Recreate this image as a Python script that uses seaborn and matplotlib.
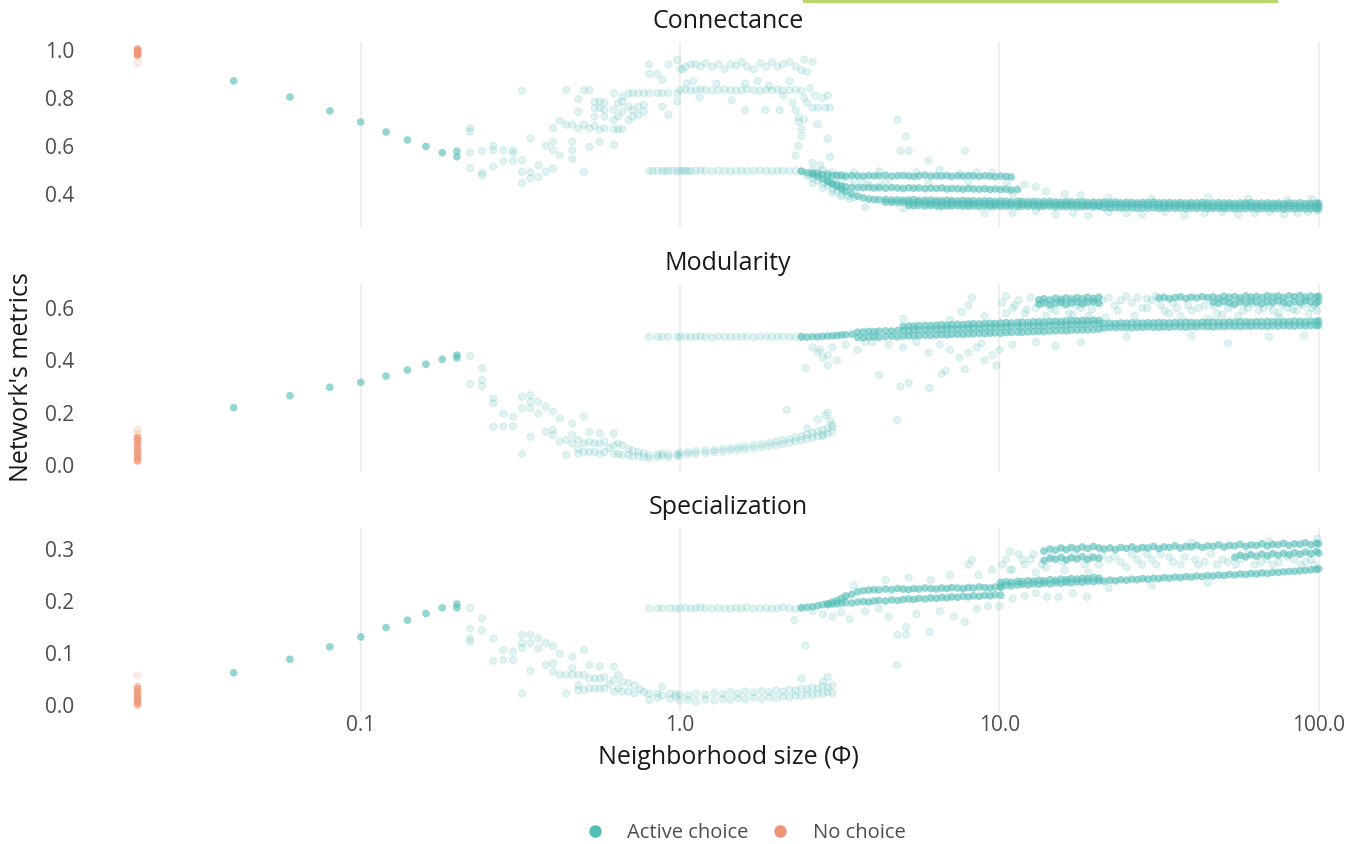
import numpy as np
import pandas as pd
import matplotlib
matplotlib.use("Agg")
import matplotlib.pyplot as plt
from matplotlib.lines import Line2D
from matplotlib.patches import Rectangle
from matplotlib.ticker import NullLocator
import seaborn as sns

# --- data ---------------------------------------------------------------
NO_CHOICE_PHI = 0.02

nc_conn = [1.005, 1.0, 0.996, 0.992, 0.988, 0.984, 0.98, 0.978]
nc_conn_faint = [0.946]
nc_mod = [0.015, 0.02, 0.03, 0.04, 0.05, 0.06, 0.07, 0.08, 0.09, 0.10, 0.105]
nc_mod_faint = [0.12, 0.135]
nc_spec = [0.0, 0.004, 0.008, 0.012, 0.016, 0.02, 0.025, 0.03, 0.035]
nc_spec_faint = [0.057]

# small neighbourhoods: all replicates give the same network
phi_early = [0.04, 0.06, 0.08, 0.10, 0.12, 0.14, 0.16, 0.18, 0.20, 0.20]
conn_early = [0.871, 0.804, 0.746, 0.70, 0.658, 0.625, 0.598, 0.572, 0.578, 0.555]
mod_early = [0.219, 0.265, 0.297, 0.316, 0.34, 0.363, 0.385, 0.404, 0.42, 0.41]
spec_early = [0.062, 0.088, 0.112, 0.131, 0.149, 0.163, 0.176, 0.187, 0.194, 0.187]

conn_cloud = [
    (0.22, 0.675), (0.22, 0.66), (0.22, 0.572), (0.22, 0.507),
    (0.24, 0.579), (0.24, 0.489), (0.24, 0.479),
    (0.26, 0.60), (0.26, 0.583), (0.26, 0.514),
    (0.28, 0.583), (0.28, 0.537),
    (0.30, 0.583), (0.30, 0.57), (0.30, 0.537),
    (0.32, 0.83), (0.32, 0.54), (0.32, 0.493), (0.32, 0.444),
    (0.34, 0.632), (0.34, 0.49), (0.34, 0.465),
    (0.36, 0.52), (0.36, 0.47),
    (0.38, 0.60), (0.38, 0.493),
    (0.40, 0.674), (0.40, 0.618), (0.40, 0.583), (0.40, 0.507),
    (0.42, 0.705), (0.42, 0.562),
    (0.44, 0.833), (0.44, 0.688),
    (0.46, 0.688), (0.46, 0.618), (0.46, 0.583), (0.46, 0.546),
    (0.48, 0.795), (0.48, 0.743), (0.48, 0.674),
    (0.50, 0.833), (0.50, 0.688), (0.50, 0.493),
    (0.52, 0.833), (0.52, 0.674), (0.52, 0.596),
    (0.54, 0.785), (0.54, 0.757), (0.54, 0.722), (0.54, 0.683),
    (0.56, 0.785), (0.56, 0.757), (0.56, 0.667), (0.56, 0.618),
    (0.58, 0.78), (0.58, 0.75), (0.58, 0.722), (0.58, 0.674),
    (0.62, 0.82), (0.62, 0.75), (0.62, 0.708), (0.62, 0.67), (0.62, 0.604),
    (0.64, 0.778), (0.64, 0.722), (0.64, 0.67),
    (0.66, 0.806), (0.66, 0.785), (0.66, 0.743), (0.66, 0.67),
    (0.69, 0.82), (0.69, 0.764), (0.69, 0.708),
    (0.71, 0.82), (0.71, 0.75), (0.71, 0.722),
    (0.74, 0.82), (0.74, 0.764), (0.74, 0.729),
    (0.77, 0.82), (0.77, 0.771), (0.77, 0.743),
    (0.80, 0.94), (0.80, 0.90), (0.80, 0.82), (0.80, 0.496),
    (0.85, 0.90), (0.85, 0.82), (0.85, 0.496),
    (0.88, 0.875), (0.88, 0.82), (0.88, 0.764), (0.88, 0.496),
    (0.92, 0.94), (0.92, 0.82), (0.92, 0.729), (0.92, 0.496),
    (0.98, 0.958), (0.98, 0.82), (0.98, 0.785), (0.98, 0.496),
]
mod_cloud = [
    (0.22, 0.416), (0.22, 0.31), (0.24, 0.37), (0.24, 0.325), (0.24, 0.302),
    (0.26, 0.255), (0.26, 0.236), (0.26, 0.146), (0.28, 0.197), (0.28, 0.148),
    (0.30, 0.185), (0.30, 0.148), (0.32, 0.261), (0.32, 0.217), (0.32, 0.042),
    (0.34, 0.267), (0.34, 0.242), (0.34, 0.217), (0.34, 0.108),
    (0.36, 0.242), (0.36, 0.197), (0.38, 0.223), (0.38, 0.127),
    (0.40, 0.204), (0.40, 0.134), (0.40, 0.115), (0.42, 0.178), (0.42, 0.089),
    (0.44, 0.096), (0.44, 0.038), (0.46, 0.159), (0.46, 0.115), (0.46, 0.083),
    (0.48, 0.096), (0.48, 0.061), (0.48, 0.043), (0.50, 0.185), (0.50, 0.083),
    (0.50, 0.05), (0.52, 0.127), (0.52, 0.089), (0.52, 0.05), (0.54, 0.083),
    (0.54, 0.05), (0.56, 0.121), (0.56, 0.083), (0.56, 0.043), (0.58, 0.089),
    (0.58, 0.05), (0.60, 0.065), (0.62, 0.121), (0.62, 0.076), (0.62, 0.043),
    (0.64, 0.083), (0.64, 0.043), (0.66, 0.076), (0.66, 0.038), (0.69, 0.061),
    (0.69, 0.038), (0.71, 0.055), (0.71, 0.032), (0.74, 0.05), (0.74, 0.035),
    (0.77, 0.045), (0.77, 0.03), (0.80, 0.038), (0.80, 0.025), (0.80, 0.49),
    (0.85, 0.04), (0.85, 0.03), (0.85, 0.49), (0.88, 0.035), (0.88, 0.045),
    (0.88, 0.49), (0.92, 0.04), (0.92, 0.03), (0.92, 0.49), (0.98, 0.042),
    (0.98, 0.035), (0.98, 0.49),
]
spec_cloud = [
    (0.22, 0.187), (0.22, 0.147), (0.22, 0.128), (0.22, 0.122), (0.24, 0.167),
    (0.24, 0.144), (0.26, 0.128), (0.26, 0.085), (0.28, 0.106), (0.28, 0.087),
    (0.30, 0.103), (0.30, 0.087), (0.32, 0.135), (0.32, 0.119), (0.32, 0.11),
    (0.32, 0.022), (0.34, 0.135), (0.34, 0.119), (0.34, 0.066), (0.36, 0.128),
    (0.36, 0.109), (0.38, 0.119), (0.38, 0.077), (0.40, 0.113), (0.40, 0.08),
    (0.40, 0.064), (0.42, 0.099), (0.42, 0.058), (0.44, 0.058), (0.44, 0.022),
    (0.46, 0.093), (0.46, 0.071), (0.46, 0.058), (0.48, 0.058), (0.48, 0.038),
    (0.48, 0.029), (0.50, 0.106), (0.50, 0.058), (0.50, 0.029), (0.52, 0.077),
    (0.52, 0.051), (0.52, 0.032), (0.54, 0.051), (0.54, 0.032), (0.56, 0.074),
    (0.56, 0.051), (0.56, 0.032), (0.58, 0.054), (0.58, 0.032), (0.60, 0.04),
    (0.62, 0.074), (0.62, 0.048), (0.62, 0.026), (0.64, 0.058), (0.64, 0.032),
    (0.66, 0.045), (0.66, 0.026), (0.69, 0.042), (0.69, 0.026), (0.72, 0.038),
    (0.72, 0.022), (0.75, 0.03), (0.77, 0.025), (0.80, 0.022), (0.80, 0.01),
    (0.80, 0.186), (0.85, 0.022), (0.85, 0.014), (0.85, 0.186), (0.88, 0.035),
    (0.88, 0.018), (0.88, 0.186), (0.93, 0.022), (0.93, 0.012), (0.93, 0.186),
    (0.97, 0.022), (0.97, 0.016), (0.97, 0.186),
]

# plateau between phi = 1 and 2.4
plateau_phi = [1.0, 1.04, 1.08, 1.12, 1.16, 1.2, 1.26, 1.32, 1.38, 1.44, 1.5,
               1.56, 1.62, 1.7, 1.78, 1.86, 1.94, 2.02, 2.1, 2.2, 2.3, 2.4]
conn_plateau_hi = [0.92, 0.93, 0.94, 0.94, 0.93, 0.945, 0.93, 0.94, 0.92, 0.94, 0.935,
                   0.95, 0.93, 0.92, 0.945, 0.93, 0.95, 0.93, 0.94, 0.95, 0.93, 0.915]
conn_plateau_mid = [0.833, 0.835, 0.83, 0.833, 0.836, 0.833, 0.83, 0.833, 0.835, 0.833, 0.831,
                    0.833, 0.836, 0.833, 0.83, 0.834, 0.833, 0.836, 0.832, 0.833, 0.835, 0.83]
conn_plateau_lo = [0.496, 0.497, 0.495, 0.496, 0.498, 0.496, 0.495, 0.497, 0.496, 0.494, 0.496,
                   0.497, 0.495, 0.496, 0.498, 0.496, 0.495, 0.497, 0.496, 0.495, 0.497, 0.494]
mod_plateau_hi = [0.49, 0.491, 0.489, 0.49, 0.492, 0.49, 0.488, 0.491, 0.49, 0.489, 0.491,
                  0.49, 0.492, 0.489, 0.49, 0.491, 0.489, 0.49, 0.492, 0.49, 0.489, 0.491]
spec_plateau_hi = [0.186, 0.187, 0.185, 0.186, 0.188, 0.186, 0.185, 0.187, 0.186, 0.185, 0.187,
                   0.186, 0.188, 0.185, 0.186, 0.187, 0.185, 0.186, 0.188, 0.186, 0.185, 0.187]

# low branch that stops at phi = 3
curve_phi = [1.0, 1.06, 1.12, 1.2, 1.28, 1.36, 1.44, 1.52, 1.6, 1.7, 1.8, 1.9,
             2.0, 2.1, 2.2, 2.3, 2.4, 2.5, 2.6, 2.7, 2.8, 2.9, 3.0]
mod_curve_a = [0.048, 0.05, 0.053, 0.056, 0.058, 0.062, 0.065, 0.068, 0.072, 0.076, 0.08, 0.085,
               0.09, 0.095, 0.1, 0.105, 0.11, 0.116, 0.122, 0.128, 0.134, 0.14, 0.146]
mod_curve_b = [0.036, 0.04, 0.042, 0.045, 0.049, 0.051, 0.055, 0.058, 0.06, 0.064, 0.068, 0.072,
               0.076, 0.08, 0.085, 0.09, 0.095, 0.1, 0.104, 0.11, 0.116, 0.12, 0.126]
spec_curve_a = [0.02, 0.018, 0.022, 0.02, 0.024, 0.021, 0.025, 0.022, 0.026, 0.024, 0.027, 0.025,
                0.028, 0.026, 0.03, 0.028, 0.032, 0.03, 0.034, 0.032, 0.036, 0.034, 0.038]
spec_curve_b = [0.008, 0.01, 0.007, 0.011, 0.009, 0.012, 0.01, 0.013, 0.011, 0.014, 0.012, 0.015,
                0.013, 0.016, 0.015, 0.018, 0.017, 0.02, 0.019, 0.022, 0.021, 0.024, 0.023]

conn_scatter = [
    (1.02, 0.92), (1.05, 0.86), (1.1, 0.87), (1.15, 0.80), (1.3, 0.86), (1.45, 0.79),
    (1.6, 0.86), (1.6, 0.75), (1.75, 0.87), (1.85, 0.75), (1.9, 0.85), (2.05, 0.75),
    (2.1, 0.81), (2.2, 0.87), (2.25, 0.78), (2.3, 0.75), (2.35, 0.72), (2.35, 0.70),
    (2.4, 0.67), (2.4, 0.64), (2.35, 0.60), (2.45, 0.80), (2.45, 0.71), (2.5, 0.78),
    (2.55, 0.84), (2.6, 0.76), (2.65, 0.81), (2.7, 0.76), (2.7, 0.69), (2.8, 0.80),
    (2.85, 0.76), (2.9, 0.81), (2.95, 0.76), (2.9, 0.63), (2.3, 0.56), (2.95, 0.555),
    (2.6, 0.53), (2.75, 0.52), (2.5, 0.91), (2.6, 0.95), (2.45, 0.96),
    (0.82, 0.496), (0.9, 0.496), (0.95, 0.496), (1.02, 0.496), (1.06, 0.496),
    (4.8, 0.71), (5.1, 0.64), (4.9, 0.58), (5.2, 0.58), (7.8, 0.58), (6.0, 0.54),
    (2.6, 0.50), (2.8, 0.50), (3.0, 0.49), (3.5, 0.49), (4.2, 0.495), (5.5, 0.49),
    (6.5, 0.50), (7.5, 0.485), (8.5, 0.49), (9.5, 0.49), (3.2, 0.455), (4.4, 0.45),
    (6.0, 0.445), (8.0, 0.45), (10.5, 0.45), (12, 0.44), (13, 0.43), (11, 0.40),
    (14, 0.41), (16, 0.40), (18, 0.395), (22, 0.385), (30, 0.38), (45, 0.385),
    (60, 0.38), (80, 0.375), (95, 0.38), (3.8, 0.345), (5, 0.34), (6.5, 0.345),
    (9, 0.32), (11, 0.32), (13, 0.33), (15, 0.315), (17, 0.32), (19, 0.31),
    (22, 0.325), (25, 0.32), (28, 0.315), (33, 0.325), (38, 0.31), (44, 0.32),
    (50, 0.325), (56, 0.315), (63, 0.32), (70, 0.325), (78, 0.315), (86, 0.32),
    (93, 0.325), (99, 0.33), (6, 0.36), (7, 0.355), (8, 0.35), (9.5, 0.345),
    # fan between the 0.5 plateau and the lower bands
    (2.5, 0.475), (2.6, 0.465), (2.7, 0.455), (2.8, 0.445), (2.9, 0.435), (3.0, 0.42),
    (3.1, 0.41), (3.2, 0.40), (3.35, 0.392), (3.5, 0.386), (2.6, 0.445), (2.8, 0.425),
    (3.0, 0.405), (3.2, 0.39), (3.4, 0.38), (2.7, 0.49), (2.9, 0.485), (3.1, 0.48),
    (3.3, 0.47), (3.5, 0.46), (3.7, 0.45), (3.9, 0.44), (4.2, 0.435),
]
mod_scatter = [
    (2.16, 0.21), (2.9, 0.20), (2.85, 0.19), (2.95, 0.17), (2.7, 0.175), (3.0, 0.155),
    (2.5, 0.14), (2.8, 0.11),
    (2.6, 0.45), (2.7, 0.43), (2.8, 0.41), (2.75, 0.44), (2.9, 0.42), (3.0, 0.45),
    (3.1, 0.40), (2.9, 0.38), (2.47, 0.37), (3.3, 0.46), (3.6, 0.44), (4.0, 0.47),
    (4.2, 0.344), (4.5, 0.46), (4.9, 0.30), (5.2, 0.313), (5.0, 0.45), (5.5, 0.47),
    (6.05, 0.294), (6.0, 0.43), (6.6, 0.348), (6.8, 0.36), (7.0, 0.44), (7.8, 0.367),
    (7.5, 0.41), (8.0, 0.43), (8.5, 0.45), (9.0, 0.40), (9.5, 0.42), (9.8, 0.38),
    (10.0, 0.44), (4.78, 0.172), (3.8, 0.47), (6.5, 0.46), (8.8, 0.465), (11, 0.46),
    (13, 0.47), (15, 0.455), (18, 0.47), (52, 0.466), (25, 0.49), (40, 0.495),
    (70, 0.49), (90, 0.495),
    (8.2, 0.64), (8.0, 0.61), (7.6, 0.585), (5, 0.56), (7, 0.555), (9, 0.57),
    (10.2, 0.62), (10.5, 0.645), (11, 0.60), (11.5, 0.63), (12, 0.58), (12.5, 0.64),
    (13, 0.60), (14, 0.57), (15, 0.59), (16, 0.61), (17, 0.575), (18, 0.60),
    (19, 0.57), (20, 0.62), (21, 0.63), (21.5, 0.565), (22, 0.64), (23, 0.61),
    (24, 0.63), (25, 0.645), (26, 0.62), (27, 0.64), (28, 0.60), (29, 0.635),
    (30, 0.63), (31, 0.645), (32, 0.61), (34, 0.58), (36, 0.60), (40, 0.59),
    (44, 0.61), (45, 0.56), (48, 0.58), (52, 0.60), (56, 0.57), (60, 0.60),
    (65, 0.59), (70, 0.61), (75, 0.58), (75, 0.565), (80, 0.60), (85, 0.59),
    (90, 0.61), (95, 0.60), (99, 0.59),
    (10.5, 0.58), (11.2, 0.61), (12.2, 0.595), (13.5, 0.615), (14.5, 0.60), (15.5, 0.62),
    (16.5, 0.58), (17.5, 0.61), (18.5, 0.625), (19.5, 0.595), (23.5, 0.59), (26.5, 0.57),
    (29, 0.60), (33, 0.59), (35, 0.62), (37, 0.57), (39, 0.61), (42, 0.60), (47, 0.61),
    (50, 0.575), (54, 0.61), (58, 0.59), (62, 0.615), (67, 0.60), (72, 0.59), (77, 0.61),
    (83, 0.595), (88, 0.615), (93, 0.58), (97, 0.61),
]
spec_scatter = [
    (2.28, 0.163), (2.47, 0.114), (4.8, 0.135), (5.1, 0.135), (5.1, 0.15), (6.05, 0.141),
    (4.78, 0.077), (7.8, 0.16), (18.8, 0.208), (15.3, 0.208), (14.1, 0.208), (8.2, 0.279),
    (8.0, 0.27), (10.8, 0.295), (2.9, 0.054), (2.4, 0.051), (2.8, 0.045),
    (2.6, 0.18), (2.8, 0.175), (3.0, 0.17), (3.2, 0.178), (3.4, 0.165), (3.8, 0.18),
    (4.2, 0.185), (4.5, 0.17), (5.5, 0.175), (6.5, 0.18), (7.2, 0.17), (8.5, 0.185),
    (9.2, 0.19), (10, 0.19), (11, 0.205), (12, 0.21), (13, 0.215), (17, 0.215),
    (22, 0.225), (30, 0.23), (45, 0.235), (3.3, 0.21), (3.5, 0.23), (4.4, 0.24),
    (5.2, 0.245), (6.1, 0.24), (7.0, 0.25), (8.6, 0.25), (9.5, 0.26), (10.2, 0.27),
    (10.5, 0.28), (11, 0.26), (11.5, 0.29), (12, 0.27), (12.5, 0.28), (13, 0.255),
    (14, 0.265), (16, 0.26), (19, 0.255), (21, 0.29), (22, 0.28), (24, 0.275),
    (26, 0.29), (28, 0.27), (30, 0.28), (32, 0.29), (35, 0.275), (38, 0.285),
    (42, 0.27), (46, 0.29), (50, 0.28), (55, 0.27), (60, 0.29), (66, 0.275),
    (72, 0.27), (80, 0.285), (88, 0.27), (95, 0.28), (99, 0.32), (70, 0.315),
    (40, 0.312),
    (10.8, 0.26), (11.8, 0.28), (12.8, 0.29), (13.6, 0.27), (14.6, 0.285), (15.8, 0.275),
    (17.2, 0.29), (18.5, 0.27), (19.3, 0.285), (20.5, 0.27), (23, 0.285), (25, 0.265),
    (27, 0.28), (29, 0.29), (31, 0.27), (34, 0.285), (37, 0.27), (41, 0.28), (44, 0.275),
    (48, 0.27), (52, 0.275), (57, 0.28), (63, 0.27), (69, 0.28), (75, 0.275), (84, 0.28),
    (91, 0.275), (97, 0.27),
]

# phi values where the replicate bands are continuous (2.4 .. 100)
phi_grid = [2.4, 2.5, 2.6, 2.7, 2.8, 2.9, 3.0, 3.1, 3.2, 3.3, 3.45, 3.6, 3.75, 3.9,
            4.05, 4.2, 4.4, 4.6, 4.8, 5.0, 5.2, 5.4, 5.6, 5.85, 6.1, 6.35, 6.6, 6.85,
            7.1, 7.4, 7.7, 8.0, 8.3, 8.65, 9.0, 9.35, 9.7, 10.1, 10.5, 10.9, 11.4,
            11.8, 12.3, 12.8, 13.3, 13.8, 14.4, 15.0, 15.6, 16.2, 16.8, 17.5, 18.2,
            18.9, 19.7, 20.5, 21.3, 22.2, 23.1, 24.0, 25.0, 26.0, 27.0, 28.1, 29.2,
            30.4, 31.6, 32.8, 34.1, 35.5, 36.9, 38.4, 39.9, 41.5, 43.2, 44.9, 46.7,
            48.6, 50.5, 52.5, 54.6, 56.8, 59.1, 61.4, 63.9, 66.4, 69.1, 71.8, 74.7,
            77.7, 80.8, 84.0, 87.4, 90.9, 94.5, 98.3, 100]

conn_trans = [0.495, 0.488, 0.481, 0.472, 0.462, 0.451, 0.441, 0.431, 0.421, 0.410,
              0.400, 0.391, 0.384, 0.379]
conn_top = [0.488, 0.484, 0.481, 0.479, 0.477, 0.476, 0.478, 0.475, 0.477, 0.476, 0.474,
            0.477, 0.475, 0.476, 0.478, 0.474, 0.476, 0.477, 0.475, 0.473, 0.476, 0.478,
            0.474, 0.476, 0.475, 0.477, 0.473, 0.476, 0.474, 0.477, 0.475, 0.473, 0.476,
            0.474, 0.472, 0.475, 0.473, 0.471]
conn_mid = [0.455, 0.445, 0.438, 0.433, 0.430, 0.428, 0.427, 0.426, 0.428, 0.425, 0.426,
            0.424, 0.427, 0.425, 0.423, 0.426, 0.424, 0.425, 0.422, 0.424, 0.423, 0.425,
            0.421, 0.423, 0.422, 0.420, 0.423, 0.421, 0.420, 0.422, 0.419, 0.421, 0.418,
            0.420, 0.417, 0.419]
conn_low = [0.377, 0.376, 0.377, 0.375, 0.376, 0.374, 0.375, 0.376, 0.373, 0.374, 0.375,
            0.373, 0.372, 0.374, 0.373, 0.371, 0.373, 0.372, 0.371, 0.370, 0.372, 0.371,
            0.369, 0.371, 0.370, 0.368, 0.370, 0.369, 0.368, 0.369, 0.367, 0.368, 0.369,
            0.367, 0.366, 0.368, 0.367, 0.366, 0.367, 0.365, 0.366, 0.365]
conn_low2 = [0.366, 0.365, 0.364, 0.366, 0.364, 0.363, 0.365, 0.363, 0.362, 0.364, 0.362,
             0.361, 0.363, 0.361, 0.360, 0.362, 0.360, 0.361, 0.359, 0.360, 0.358, 0.360,
             0.359, 0.357, 0.359, 0.358, 0.357, 0.358, 0.356, 0.357, 0.358, 0.356, 0.355,
             0.357, 0.355, 0.356, 0.354, 0.355, 0.354, 0.353]
conn_low3 = [0.352, 0.351, 0.353, 0.350, 0.352, 0.351, 0.349, 0.351, 0.350, 0.352, 0.349,
             0.350, 0.351, 0.348, 0.350, 0.349, 0.351, 0.348, 0.349, 0.350, 0.347, 0.349,
             0.348, 0.350, 0.347, 0.348, 0.349, 0.346, 0.348, 0.347, 0.349, 0.346, 0.347,
             0.348, 0.346, 0.347]
conn_end = [0.357, 0.356, 0.357, 0.355, 0.356, 0.354, 0.356, 0.355, 0.353, 0.355, 0.354,
            0.352, 0.354, 0.353, 0.355, 0.352, 0.353, 0.351, 0.353, 0.352, 0.350, 0.352,
            0.351, 0.353, 0.350, 0.351, 0.352, 0.350, 0.351, 0.349, 0.351, 0.350, 0.352,
            0.349, 0.350, 0.351, 0.349, 0.350, 0.351, 0.349, 0.350]
conn_end2 = [0.343, 0.342, 0.344, 0.341, 0.343, 0.342, 0.340, 0.342, 0.341, 0.343, 0.340,
             0.341, 0.342, 0.340, 0.341, 0.339, 0.341, 0.340, 0.342, 0.339, 0.340, 0.341,
             0.339, 0.340, 0.338, 0.340, 0.339, 0.341, 0.338, 0.339, 0.340, 0.338, 0.339,
             0.337, 0.339, 0.338, 0.340, 0.337, 0.338, 0.339, 0.338]
conn_end3 = [0.367, 0.365, 0.366, 0.364, 0.366, 0.365, 0.363, 0.365, 0.364, 0.366, 0.363,
             0.364, 0.365, 0.363, 0.364, 0.362, 0.364, 0.363, 0.365, 0.362, 0.363, 0.364,
             0.362, 0.363, 0.361, 0.363, 0.362, 0.364, 0.361, 0.362, 0.363, 0.361, 0.362,
             0.360, 0.362, 0.361, 0.363, 0.360, 0.361, 0.362, 0.361]

mod_trans = [0.490, 0.489, 0.491, 0.490, 0.492, 0.493, 0.494, 0.495, 0.497, 0.498, 0.500]
mod_a = [0.508, 0.509, 0.511, 0.510, 0.512, 0.513, 0.512, 0.514, 0.515, 0.514, 0.516,
         0.517, 0.516, 0.518, 0.519, 0.518, 0.520, 0.521, 0.520, 0.522, 0.523, 0.524,
         0.523, 0.525, 0.526, 0.527, 0.526, 0.528, 0.529, 0.530, 0.529, 0.531, 0.532,
         0.533, 0.532, 0.534, 0.535, 0.536, 0.535, 0.537, 0.538, 0.539, 0.538, 0.540, 0.541]
mod_b = [0.488, 0.487, 0.489, 0.490, 0.488, 0.491, 0.492, 0.490, 0.493, 0.494, 0.493,
         0.495, 0.496, 0.495, 0.497, 0.498, 0.497, 0.499, 0.500, 0.499, 0.501, 0.502,
         0.503, 0.502, 0.504, 0.505, 0.504, 0.506, 0.507, 0.508, 0.507, 0.509, 0.510,
         0.511, 0.510, 0.512, 0.513, 0.514, 0.513, 0.515, 0.516, 0.517, 0.516, 0.518, 0.519]
mod_d = [0.530, 0.532, 0.531, 0.533, 0.534, 0.533, 0.535, 0.536, 0.535, 0.537, 0.538,
         0.537, 0.539, 0.540, 0.539, 0.541, 0.542, 0.541, 0.543, 0.544, 0.543, 0.545,
         0.546, 0.545, 0.547, 0.548, 0.547, 0.549, 0.550, 0.549, 0.551, 0.552, 0.551,
         0.553, 0.552, 0.554, 0.553]
mod_c = [0.541, 0.542, 0.541, 0.543, 0.542, 0.544, 0.543, 0.542, 0.544, 0.543, 0.545,
         0.544, 0.543, 0.545, 0.544, 0.546, 0.545, 0.544, 0.546, 0.545, 0.547, 0.546,
         0.545, 0.547, 0.546, 0.548, 0.547, 0.546, 0.548, 0.547, 0.549, 0.548, 0.547,
         0.549, 0.548, 0.550, 0.549, 0.548, 0.550, 0.549, 0.551]
mod_c2 = [0.524, 0.526, 0.525, 0.527, 0.526, 0.525, 0.527, 0.526, 0.528, 0.527, 0.526,
          0.528, 0.527, 0.529, 0.528, 0.527, 0.529, 0.528, 0.530, 0.529, 0.528, 0.530,
          0.529, 0.531, 0.530, 0.529, 0.531, 0.530, 0.532, 0.531, 0.530, 0.532, 0.531,
          0.533, 0.532, 0.531, 0.533, 0.532, 0.534, 0.533, 0.534]
mod_top1 = [0.632, 0.636, 0.631, 0.638, 0.634, 0.639, 0.635, 0.640, 0.636, 0.641, 0.637, 0.642]
mod_top2 = [0.615, 0.620, 0.612, 0.618, 0.622, 0.614, 0.619, 0.623, 0.616, 0.621, 0.625, 0.618]
mod_top3 = [0.638, 0.641, 0.636, 0.640, 0.643, 0.637, 0.642, 0.639, 0.644, 0.640, 0.643,
            0.638, 0.645, 0.641, 0.644, 0.639, 0.646, 0.642, 0.645, 0.640, 0.647, 0.643,
            0.646, 0.641, 0.647, 0.644, 0.648, 0.642, 0.646, 0.643, 0.645]
mod_top4 = [0.622, 0.618, 0.625, 0.620, 0.616, 0.623, 0.619, 0.626, 0.621, 0.617, 0.624,
            0.620, 0.627, 0.622, 0.618, 0.625, 0.621, 0.628, 0.623, 0.619, 0.626]

spec_trans = [0.187, 0.188, 0.189, 0.191, 0.193, 0.195, 0.198, 0.201, 0.205, 0.209, 0.213]
spec_low = [0.193, 0.194, 0.195, 0.196, 0.197, 0.196, 0.198, 0.199, 0.198, 0.200, 0.201,
            0.200, 0.202, 0.201, 0.203, 0.204, 0.203, 0.205, 0.204, 0.206, 0.205, 0.207,
            0.206, 0.208, 0.207, 0.209, 0.208, 0.210, 0.209, 0.211, 0.210, 0.212, 0.211]
spec_up = [0.218, 0.220, 0.221, 0.222, 0.221, 0.223, 0.222, 0.224, 0.223, 0.222, 0.224,
           0.223, 0.225, 0.224, 0.223, 0.225, 0.224, 0.226, 0.225, 0.224, 0.226, 0.225,
           0.227, 0.226, 0.225, 0.227, 0.226]
spec_main = [0.229, 0.230, 0.229, 0.231, 0.232, 0.231, 0.233, 0.232, 0.234, 0.233, 0.235,
             0.234, 0.236, 0.235, 0.237, 0.236, 0.238, 0.237, 0.239, 0.238, 0.240, 0.239,
             0.241, 0.240, 0.242, 0.241, 0.243, 0.242, 0.244, 0.243, 0.245, 0.244, 0.246,
             0.245, 0.247, 0.246, 0.248, 0.247, 0.249, 0.248, 0.250, 0.249, 0.251, 0.250,
             0.252, 0.251, 0.253, 0.252, 0.254, 0.253, 0.255, 0.255, 0.256, 0.257, 0.257,
             0.258, 0.259, 0.260, 0.261, 0.262]
spec_main2 = [0.236, 0.237, 0.236, 0.238, 0.237, 0.239, 0.238, 0.240, 0.239, 0.241, 0.240,
              0.242, 0.241, 0.243, 0.242, 0.244, 0.243, 0.245, 0.244]
spec_top1 = [0.296, 0.300, 0.298, 0.302, 0.299, 0.303, 0.300, 0.304, 0.301, 0.305, 0.302]
spec_top2 = [0.278, 0.282, 0.280, 0.284, 0.279, 0.283, 0.281, 0.285, 0.280, 0.284, 0.282]
spec_top3 = [0.300, 0.302, 0.299, 0.303, 0.301, 0.304, 0.300, 0.303, 0.302, 0.305, 0.301,
             0.304, 0.303, 0.306, 0.302, 0.305, 0.304, 0.307, 0.303, 0.306, 0.305, 0.308,
             0.304, 0.307, 0.306, 0.309, 0.305, 0.308, 0.307, 0.310, 0.306, 0.309, 0.308,
             0.311, 0.307, 0.310, 0.309, 0.312, 0.308, 0.311, 0.310]
spec_top4 = [0.284, 0.288, 0.285, 0.289, 0.286, 0.290, 0.287, 0.291, 0.288, 0.292, 0.289,
             0.293, 0.290, 0.294, 0.291, 0.295, 0.292]

# --- long table -----------------------------------------------------------
frames = []


def add(metric, phi, values, layer, regime="Active choice"):
    frames.append(pd.DataFrame({
        "metric": metric,
        "phi": list(phi)[:len(values)],
        "value": list(values),
        "regime": regime,
        "layer": layer,
    }))


def add_pairs(metric, pairs):
    add(metric, [p[0] for p in pairs], [p[1] for p in pairs], "sparse")


def add_band(metric, start, values):
    add(metric, phi_grid[start:], values, "dense")


for m, nc, nc_f, early in [("Connectance", nc_conn, nc_conn_faint, conn_early),
                           ("Modularity", nc_mod, nc_mod_faint, mod_early),
                           ("Specialization", nc_spec, nc_spec_faint, spec_early)]:
    add(m, [NO_CHOICE_PHI] * len(nc), nc, "dense", "No choice")
    add(m, [NO_CHOICE_PHI] * len(nc_f), nc_f, "sparse", "No choice")
    add(m, phi_early, early, "dense")

add_pairs("Connectance", conn_cloud)
add_pairs("Connectance", conn_scatter)
add("Connectance", plateau_phi, conn_plateau_hi, "sparse")
add("Connectance", plateau_phi, conn_plateau_mid, "sparse")
add("Connectance", plateau_phi, conn_plateau_lo, "sparse")
add_band("Connectance", 0, conn_trans)
add_band("Connectance", 2, conn_top)
add_band("Connectance", 5, conn_mid)
add_band("Connectance", 14, conn_low)
add_band("Connectance", 16, conn_low2)
add_band("Connectance", 20, conn_low3)
add_band("Connectance", 56, conn_end)
add_band("Connectance", 56, conn_end2)
add_band("Connectance", 56, conn_end3)

add_pairs("Modularity", mod_cloud)
add_pairs("Modularity", mod_scatter)
add("Modularity", plateau_phi, mod_plateau_hi, "sparse")
add("Modularity", curve_phi, mod_curve_a, "sparse")
add("Modularity", curve_phi, mod_curve_b, "sparse")
add_band("Modularity", 0, mod_trans)
add_band("Modularity", 11, mod_a)
add_band("Modularity", 11, mod_b)
add_band("Modularity", 19, mod_d)
add_band("Modularity", 56, mod_c)
add_band("Modularity", 56, mod_c2)
add_band("Modularity", 44, mod_top1)
add_band("Modularity", 44, mod_top2)
add_band("Modularity", 66, mod_top3)
add_band("Modularity", 76, mod_top4)

add_pairs("Specialization", spec_cloud)
add_pairs("Specialization", spec_scatter)
add("Specialization", plateau_phi, spec_plateau_hi, "sparse")
add("Specialization", curve_phi, spec_curve_a, "sparse")
add("Specialization", curve_phi, spec_curve_b, "sparse")
add_band("Specialization", 0, spec_trans)
add_band("Specialization", 5, spec_low)
add_band("Specialization", 11, spec_up)
add_band("Specialization", 37, spec_main)
add_band("Specialization", 37, spec_main2)
add_band("Specialization", 45, spec_top1)
add_band("Specialization", 45, spec_top2)
add_band("Specialization", 56, spec_top3)
add_band("Specialization", 80, spec_top4)

df = pd.concat(frames, ignore_index=True)

# --- drawing --------------------------------------------------------------
TEAL = "#55BEB8"
ORANGE = "#EF9678"
palette = {"Active choice": TEAL, "No choice": ORANGE}

sns.set_theme(style="white")
plt.rcParams["font.family"] = ["Open Sans", "DejaVu Sans"]

W, H = 1357, 844
fig = plt.figure(figsize=(W / 100, H / 100), dpi=100)

# ggplot-like 5% expansion of the log range
lo, hi = np.log10(df["phi"].min()), np.log10(df["phi"].max())
pad = 0.05 * (hi - lo)
xlim = (10 ** (lo - pad), 10 ** (hi + pad))
left_px, right_px = 78.5, 1377.7

panels = [
    ("Connectance", 42, 227, (0.2625, 1.033), [0.4, 0.6, 0.8, 1.0]),
    ("Modularity", 284, 471, (-0.023, 0.692), [0.0, 0.2, 0.4, 0.6]),
    ("Specialization", 528, 711, (-0.0115, 0.3404), [0.0, 0.1, 0.2, 0.3]),
]

for i, (name, top, bot, ylim, yticks) in enumerate(panels):
    ax = fig.add_axes([left_px / W, 1 - bot / H, (right_px - left_px) / W, (bot - top) / H])
    ax.set_xscale("log")
    sub = df[df["metric"] == name]
    for layer, alpha, lw in [("sparse", 0.18, 0.8), ("dense", 0.62, 0.3)]:
        d = sub[sub["layer"] == layer]
        sns.scatterplot(data=d, x="phi", y="value", hue="regime", palette=palette,
                        alpha=alpha, s=26, edgecolor="face", linewidth=lw,
                        legend=False, ax=ax)
    ax.set_xlim(xlim)
    ax.set_ylim(ylim)
    ax.set_xticks([0.1, 1, 10, 100])
    ax.xaxis.set_minor_locator(NullLocator())
    ax.set_yticks(yticks)
    ax.set_yticklabels([f"{t:.1f}" for t in yticks])
    if i == 2:
        ax.set_xticklabels(["0.1", "1.0", "10.0", "100.0"])
    else:
        ax.tick_params(labelbottom=False)
    ax.grid(axis="x", color="#EBEBEB", linewidth=1.1)
    ax.grid(axis="y", visible=False)
    ax.set_axisbelow(True)
    for s in ax.spines.values():
        s.set_visible(False)
    ax.tick_params(length=0, labelsize=15, labelcolor="#4D4D4D", pad=3)
    ax.set_xlabel("")
    ax.set_ylabel("")
    ax.set_title(name, fontsize=18, color="#1A1A1A", pad=10)

fig.text(22 / W, 1 - 377 / H, "Network's metrics", rotation=90, ha="center",
         va="center", fontsize=18, color="#1A1A1A")
fig.text(728 / W, 1 - 757 / H, "Neighborhood size (Φ)", ha="center", va="center",
         fontsize=18, color="#1A1A1A")

handles = [Line2D([], [], marker="o", linestyle="", markersize=8, color=TEAL),
           Line2D([], [], marker="o", linestyle="", markersize=8, color=ORANGE)]
leg = fig.legend(handles, ["Active choice", "No choice"], loc="center",
                 bbox_to_anchor=(740 / W, 1 - 833 / H), ncol=2, frameon=False,
                 fontsize=14.5, handletextpad=0.6, columnspacing=0.6)
for t in leg.get_texts():
    t.set_color("#4D4D4D")

# thin green strip along the top edge of the original image
fig.add_artist(Rectangle((803 / W, 1 - 3 / H), 475 / W, 3 / H, transform=fig.transFigure,
                         facecolor="#B7D96C", edgecolor="none"))

fig.savefig("out.png", dpi=100)
